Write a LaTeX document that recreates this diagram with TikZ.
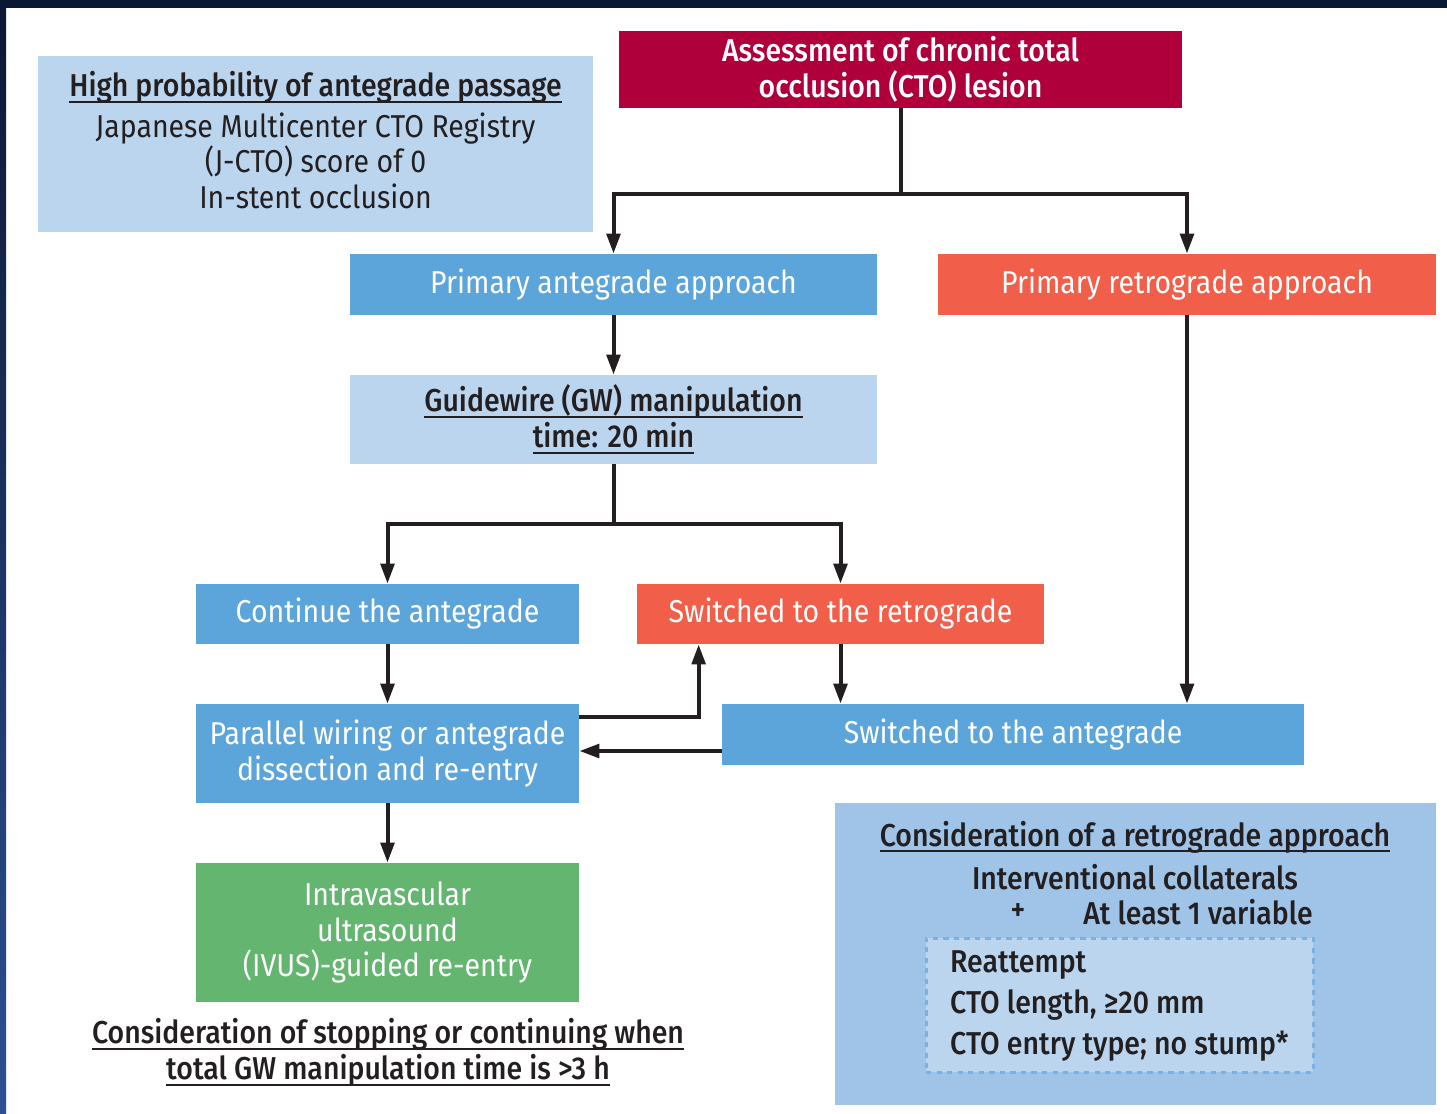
\documentclass[tikz,border=0pt]{standalone}
\usepackage{fontspec}
\setmainfont{Fira Sans}[FakeStretch=0.9, BoldFont={Fira Sans Medium}]
\usetikzlibrary{arrows.meta}

\definecolor{navy}{HTML}{0B1833}
\definecolor{stripblue}{HTML}{2E4F94}
\definecolor{lightblue}{HTML}{BBD5EE}
\definecolor{midblue}{HTML}{5CA5DB}
\definecolor{coral}{HTML}{F15E49}
\definecolor{crimson}{HTML}{AF003B}
\definecolor{green}{HTML}{63B570}
\definecolor{panelblue}{HTML}{A0C3E8}
\definecolor{dashblue}{HTML}{7AB1E2}
\definecolor{darktext}{HTML}{231F20}

% underline at a fixed depth below the baseline
\newcommand{\uline}[1]{\setbox0\hbox{#1}\rlap{\vrule height -2.4pt depth 3.6pt width \wd0}\box0}

\begin{document}
\begin{tikzpicture}[x=0.02cm, y=-0.02cm,
    every node/.style={font=\fontsize{18}{20.3}\selectfont},
    box/.style={rectangle, inner sep=2pt, align=center, text=white},
    anteBox/.style={box, fill=midblue},
    retroBox/.style={box, fill=coral},
    noteBox/.style={box, fill=lightblue, text=darktext},
    arr/.style={-{Triangle[length=0.4cm, width=0.27cm]}, line width=0.08cm, darktext},
    line/.style={line width=0.08cm, darktext}]

    %--------------------%
    % Frame
    %--------------------%
    \fill[white] (0,0) rectangle (1447,1113);
    \fill[navy] (0,0) rectangle (1447,8);
    \shade[top color=navy, bottom color=stripblue] (0,0) rectangle (6,1113);

    %--------------------%
    % Top row
    %--------------------%
    \node[noteBox, minimum width=555*0.02cm, minimum height=176*0.02cm] (hiProb) at (315.5,144) {};
    \node[align=center, text=darktext] (hiProbText) at (315.5,140)
        {\textbf{\uline{High probability of antegrade passage}}\\[3pt]
         Japanese Multicenter CTO Registry\\
         (J-CTO) score of 0\\
         In-stent occlusion};
    \node[box, fill=crimson, minimum width=563*0.02cm, minimum height=77*0.02cm] (assess) at (900.5,69.5)
        {\textbf{Assessment of chronic total}\\ \textbf{occlusion (CTO) lesion}};

    %--------------------%
    % Primary approaches
    %--------------------%
    \node[anteBox, minimum width=527*0.02cm, minimum height=61*0.02cm] (anteg) at (613.5,284.5) {Primary antegrade approach};
    \node[retroBox, minimum width=498*0.02cm, minimum height=61*0.02cm] (retro) at (1187,284.5) {Primary retrograde approach};
    \node[noteBox, minimum width=527*0.02cm, minimum height=89*0.02cm] (gwTime) at (613.5,419.5)
        {\textbf{\uline{Guidewire (GW) manipulation}}\\ \textbf{\uline{time: 20 min}}};

    %--------------------%
    % Switching
    %--------------------%
    \node[anteBox, minimum width=383*0.02cm, minimum height=60*0.02cm] (contAnte) at (387.5,614) {Continue the antegrade};
    \node[retroBox, minimum width=407*0.02cm, minimum height=60*0.02cm] (switchRetro) at (840.5,614) {Switched to the retrograde};
    \node[anteBox, minimum width=383*0.02cm, minimum height=99*0.02cm] (parallel) at (387.5,753.5)
        {Parallel wiring or antegrade\\ dissection and re-entry};
    \node[anteBox, minimum width=582*0.02cm, minimum height=61*0.02cm] (switchAnte) at (1013,734.5) {Switched to the antegrade};
    \node[box, fill=green, minimum width=383*0.02cm, minimum height=139*0.02cm] (ivus) at (387.5,932.5)
        {Intravascular\\ ultrasound\\ (IVUS)-guided re-entry};
    \node[align=center, text=darktext] (stopNote) at (388,1052.5)
        {\textbf{\uline{Consideration of stopping or continuing when}}\\
         \textbf{\uline{total GW manipulation time is >3 h}}};

    %--------------------%
    % Retrograde panel
    %--------------------%
    \node[rectangle, fill=panelblue, minimum width=601*0.02cm, minimum height=302*0.02cm] (consider) at (1135.5,954) {};
    \node[text=darktext] (considerTitle) at (1135,837) {\textbf{\uline{Consideration of a retrograde approach}}};
    \node[text=darktext] (collat) at (1135,877) {\textbf{Interventional collaterals}};
    \node[text=darktext] (plus) at (1018,912) {\textbf{+}};
    \node[text=darktext] (atLeast) at (1198,912) {\textbf{At least 1 variable}};
    \node[rectangle, fill=lightblue, draw=dashblue, dashed, line width=0.06cm,
          minimum width=387*0.02cm, minimum height=134*0.02cm] (variables) at (1119.5,1005) {};
    \node[anchor=west, align=left, text=darktext, font=\fontsize{18}{23.6}\selectfont\bfseries] (varList) at (944,1006)
        {Reattempt\\ CTO length, ≥20 mm\\ CTO entry type; no stump*};

    %--------------------%
    % Connections
    %--------------------%
    \coordinate (splitTop) at (900.5,194);
    \coordinate (splitMid) at (613.5,524);
    \draw[line] (assess.south) -- (splitTop);
    \draw[arr] (splitTop) -| (anteg.north);
    \draw[arr] (splitTop) -| (retro.north);
    \draw[arr] (anteg.south) -- (gwTime.north);
    \draw[line] (gwTime.south) -- (splitMid);
    \draw[arr] (splitMid) -| (contAnte.north);
    \draw[arr] (splitMid) -| (switchRetro.north);
    \draw[arr] (contAnte.south) -- (parallel.north);
    \draw[arr] (switchRetro.south) -- (switchRetro.south |- switchAnte.north);
    \draw[arr] (retro.south) -- (retro.south |- switchAnte.north);
    \draw[arr] ([yshift=-0.26cm]parallel.north east) -| ([xshift=1.24cm]switchRetro.south west);
    \coordinate (backIn) at ([yshift=-0.33cm]switchAnte.west);
    \draw[arr] (backIn) -- (backIn -| parallel.east);
    \draw[arr] (parallel.south) -- (ivus.north);
\end{tikzpicture}
\end{document}
